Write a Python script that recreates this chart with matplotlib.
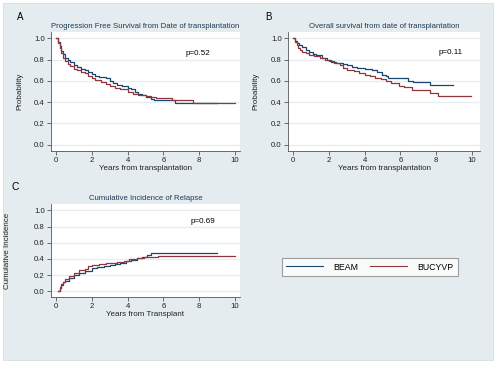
import numpy as np
import matplotlib
matplotlib.use("Agg")
import matplotlib.pyplot as plt
from matplotlib.patches import Rectangle

plt.rcParams['font.family'] = ['Liberation Sans', 'DejaVu Sans']

# --- data (step points, value holds until next time) ---
pfs_beam_t = [0, 0.1, 0.2, 0.3, 0.4, 0.5, 0.65, 0.8, 1.0, 1.2, 1.4, 1.6, 1.8, 2.0, 2.2, 2.4,
              2.8, 3.0, 3.2, 3.4, 3.7, 4.0, 4.2, 4.4, 4.6, 4.8, 5.0, 5.3, 5.5, 6.65, 9.0]
pfs_beam_s = [1.0, 0.97, 0.93, 0.88, 0.85, 0.82, 0.80, 0.78, 0.75, 0.73, 0.715, 0.70, 0.68, 0.665,
              0.65, 0.64, 0.63, 0.60, 0.58, 0.56, 0.55, 0.535, 0.52, 0.50, 0.48, 0.465, 0.45,
              0.43, 0.42, 0.39, 0.39]
pfs_bucy_t = [0, 0.1, 0.2, 0.3, 0.4, 0.5, 0.65, 0.8, 1.0, 1.2, 1.4, 1.6, 1.8, 2.0, 2.2, 2.5,
              2.8, 3.0, 3.3, 3.6, 4.0, 4.3, 4.6, 5.0, 5.3, 5.6, 6.5, 7.66, 10.0]
pfs_bucy_s = [1.0, 0.96, 0.91, 0.86, 0.82, 0.79, 0.76, 0.74, 0.715, 0.70, 0.685, 0.67, 0.65,
              0.63, 0.61, 0.59, 0.57, 0.55, 0.53, 0.52, 0.495, 0.48, 0.47, 0.455, 0.45, 0.44,
              0.417, 0.393, 0.393]

os_beam_t = [0, 0.1, 0.2, 0.35, 0.5, 0.7, 0.9, 1.1, 1.3, 1.6, 1.9, 2.1, 2.4, 2.8, 3.0, 3.3,
             3.6, 4.0, 4.4, 4.7, 5.0, 5.2, 5.3, 6.45, 6.7, 7.67, 8.94]
os_beam_s = [1.0, 0.98, 0.96, 0.94, 0.92, 0.89, 0.87, 0.85, 0.84, 0.82, 0.80, 0.78, 0.77, 0.76,
             0.75, 0.73, 0.72, 0.715, 0.70, 0.68, 0.66, 0.65, 0.627, 0.595, 0.585, 0.56, 0.56]
os_bucy_t = [0, 0.1, 0.2, 0.3, 0.4, 0.5, 0.7, 0.9, 1.2, 1.5, 1.8, 2.0, 2.3, 2.6, 2.8, 3.0,
             3.4, 3.7, 4.0, 4.3, 4.6, 4.9, 5.2, 5.5, 5.9, 6.2, 6.64, 7.67, 8.08, 9.94]
os_bucy_s = [1.0, 0.97, 0.94, 0.91, 0.89, 0.875, 0.86, 0.845, 0.835, 0.82, 0.80, 0.785, 0.77,
             0.75, 0.72, 0.70, 0.69, 0.675, 0.66, 0.645, 0.63, 0.615, 0.60, 0.58, 0.55, 0.54,
             0.51, 0.49, 0.457, 0.457]

ci_beam_t = [0.1, 0.2, 0.3, 0.4, 0.5, 0.7, 1.0, 1.3, 1.6, 2.0, 2.3, 2.7, 3.0, 3.3, 3.6, 3.9,
             4.2, 4.5, 4.8, 5.1, 5.3, 5.8, 9.0]
ci_beam_s = [0.0, 0.04, 0.08, 0.11, 0.13, 0.17, 0.20, 0.23, 0.25, 0.285, 0.30, 0.31, 0.32,
             0.335, 0.35, 0.37, 0.39, 0.41, 0.43, 0.45, 0.47, 0.48, 0.48]
ci_bucy_t = [0.1, 0.2, 0.3, 0.4, 0.5, 0.7, 1.0, 1.3, 1.6, 1.8, 2.0, 2.4, 2.8, 3.0, 3.4, 3.8,
             4.1, 4.5, 4.9, 5.3, 5.7, 10.0]
ci_bucy_s = [0.0, 0.05, 0.09, 0.12, 0.15, 0.19, 0.23, 0.26, 0.28, 0.31, 0.32, 0.335, 0.345,
             0.35, 0.365, 0.38, 0.40, 0.415, 0.425, 0.43, 0.436, 0.436]

groups = ['BEAM', 'BUCYVP']
pvals = ['p=0.52', 'p=0.11', 'p=0.69']

BG = '#e4ecef'
GRID = '#e6eef1'
BLUE = '#1a476f'
RED = '#90353b'
AX = '#555555'

W, H = 499, 365
fig = plt.figure(figsize=(W / 100, H / 100), dpi=100)
fig.patch.set_facecolor('white')
fig.patches.append(Rectangle((3 / W, 5 / H), 490 / W, 357 / H, transform=fig.transFigure,
                             facecolor=BG, edgecolor='#d5dfe3', lw=0.6, zorder=-1))


def box(x0, y0, x1, y1):
    return [x0 / W, 1 - y1 / H, (x1 - x0) / W, (y1 - y0) / H]


def style(ax, xlim, ylim, xlabel, ylabel, ylab_x):
    ax.set_facecolor('white')
    ax.set_xlim(*xlim)
    ax.set_ylim(*ylim)
    ax.set_xticks([0, 2, 4, 6, 8, 10])
    ax.set_yticks(np.arange(0, 1.01, 0.2))
    ax.set_yticklabels(['0.0', '0.2', '0.4', '0.6', '0.8', '1.0'])
    for s in ['top', 'right']:
        ax.spines[s].set_visible(False)
    for s in ['left', 'bottom']:
        ax.spines[s].set_color(AX)
        ax.spines[s].set_linewidth(0.6)
    ax.tick_params(length=3, width=0.6, color=AX, labelsize=5.6, pad=1.5,
                   labelcolor='#222222')
    ax.yaxis.grid(True, color=GRID, lw=1.0)
    ax.set_axisbelow(True)
    ax.set_xlabel(xlabel, fontsize=5.8, labelpad=0.5, color='#222222')
    ax.set_ylabel(ylabel, fontsize=5.8, color='#222222')
    ax.yaxis.set_label_coords(ylab_x, 0.5)


axA = fig.add_axes(box(51, 32, 240, 151))
axB = fig.add_axes(box(288, 32, 480, 151))
axC = fig.add_axes(box(51, 204, 240, 297))

style(axA, (-0.28, 10.28), (-0.06, 1.06), 'Years from transplantation', 'Probability', -0.148)
style(axB, (-0.28, 10.45), (-0.06, 1.06), 'Years from transplantation', 'Probability', -0.15)
style(axC, (-0.28, 10.28), (-0.07, 1.08), 'Years from Transplant', 'Cumulative Incidence', -0.21)

lb, = axA.plot(pfs_beam_t, pfs_beam_s, drawstyle='steps-post', color=BLUE, lw=0.9)
lr, = axA.plot(pfs_bucy_t, pfs_bucy_s, drawstyle='steps-post', color=RED, lw=0.9)
axB.plot(os_beam_t, os_beam_s, drawstyle='steps-post', color=BLUE, lw=0.9)
axB.plot(os_bucy_t, os_bucy_s, drawstyle='steps-post', color=RED, lw=0.9)
axC.plot(ci_beam_t, ci_beam_s, drawstyle='steps-post', color=BLUE, lw=0.9)
axC.plot(ci_bucy_t, ci_bucy_s, drawstyle='steps-post', color=RED, lw=0.9)

axA.text(7.9, 0.86, pvals[0], fontsize=5.8, ha='center', va='center')
axB.text(8.8, 0.87, pvals[1], fontsize=5.8, ha='center', va='center')
axC.text(8.2, 0.86, pvals[2], fontsize=5.8, ha='center', va='center')

axA.set_title('Progression Free Survival from Date of transplantation', fontsize=5.6,
              color='#1f3b57', pad=3)
axB.set_title('Overall survival from date of transplantation', fontsize=5.6,
              color='#1f3b57', pad=3)
axC.set_title('Cumulative Incidence of Relapse', fontsize=5.6, color='#1f3b57', pad=3)

fig.text(20 / W, 1 - 17 / H, 'A', fontsize=7, ha='center', va='center')
fig.text(268 / W, 1 - 17 / H, 'B', fontsize=7, ha='center', va='center')
fig.text(15 / W, 1 - 187 / H, 'C', fontsize=7.5, ha='center', va='center')

leg = fig.legend([lb, lr], groups, loc='center', ncol=2, mode='expand',
                 bbox_to_anchor=(282 / W, 1 - 276 / H, 176 / W, 18 / H),
                 fontsize=6.3, frameon=True, fancybox=False, handlelength=4.2,
                 handletextpad=1.2, borderaxespad=0, borderpad=0.5)
leg.get_frame().set_edgecolor('#888888')
leg.get_frame().set_linewidth(0.8)
for ln in leg.get_lines():
    ln.set_linewidth(0.8)

fig.savefig('out.png', dpi=100, facecolor=fig.get_facecolor())
